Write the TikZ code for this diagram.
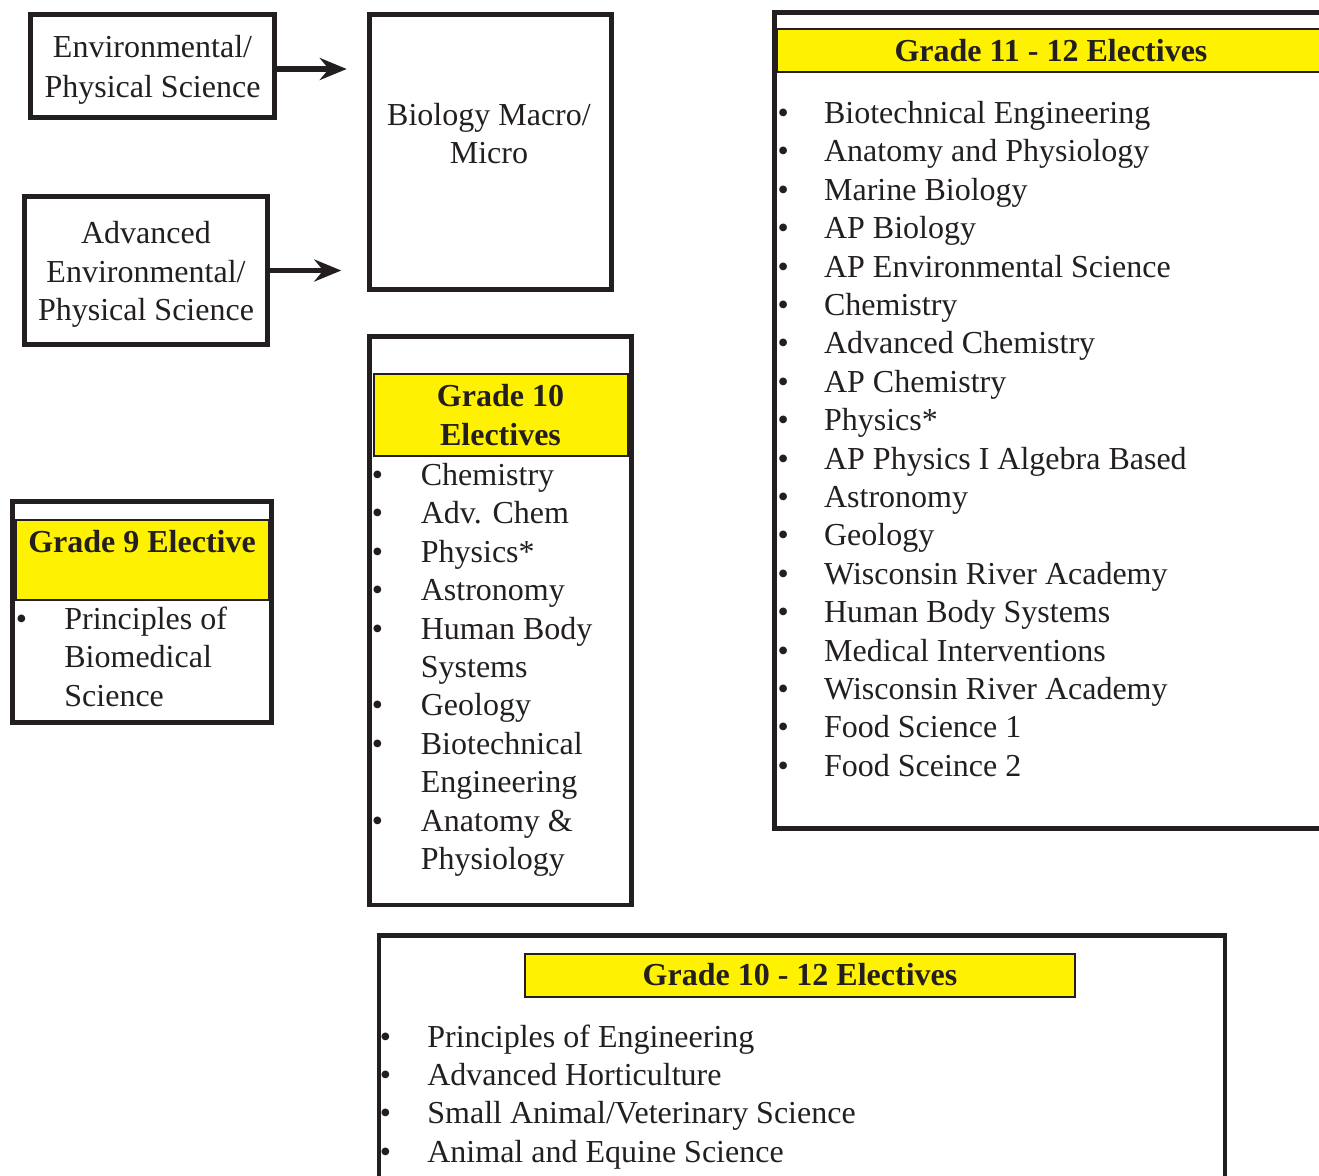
\documentclass[tikz,border=0pt]{standalone}
\usepackage{fontspec}
\setmainfont{Liberation Serif}
\usetikzlibrary{arrows.meta}
\definecolor{ink}{HTML}{231F20}
\definecolor{yel}{HTML}{FFF200}
\newcommand{\bul}{\makebox[0pt]{\textbullet}}
\begin{document}
\begin{tikzpicture}[x=0.5pt,y=-0.5pt,
  box/.style={draw=ink, line width=2.25pt, inner sep=0pt},
  hdr/.style={draw=ink, fill=yel, line width=1pt, inner sep=0pt},
  txt/.style={font=\fontsize{16}{19.2}\selectfont, text=ink, inner sep=0pt, align=center},
  btxt/.style={font=\fontsize{16}{19.2}\selectfont\bfseries, text=ink, inner sep=0pt, align=center},
  conn/.style={draw=ink, line width=2.75pt, -{Stealth[length=13.5pt,width=11pt,inset=4.5pt]}}]
\clip (0,0) rectangle (1319,1175);
\fill[white] (0,0) rectangle (1319,1175);

% top-left boxes
\node[box, txt, minimum width=122pt, minimum height=51.5pt] (env) at (152.5,66) {\rule{0pt}{15pt}Environmental/\\[0.6pt]Physical Science};
\node[box, txt, minimum width=121.5pt, minimum height=74pt] (adv) at (146,270.5) {\rule{0pt}{15pt}Advanced\\Environmental/\\Physical Science};
\node[box, minimum width=121pt, minimum height=137.5pt] (bio) at (490.5,152) {};
\node[txt, anchor=base] (biotxt) at (489,125.5) {\begin{tabular}[t]{@{}c@{}}Biology Macro/\\Micro\end{tabular}};

\draw[conn, shorten >=10.25pt] ([yshift=-1.5pt]env.east) -- ([yshift=-1.5pt]env.east -| bio.west);
\draw[conn, shorten >=13pt] (adv.east) -- (adv.east -| bio.west);

% Grade 9
\node[box, minimum width=129.5pt, minimum height=110.5pt] (g9) at (142,612) {};
\node[hdr, minimum width=126.5pt, minimum height=40.25pt] (g9h) at (142,559.75) {};
\node[btxt, anchor=base] (g9t) at (142,552) {Grade 9 Elective};
\node[txt, anchor=base west] (g9l) at (21,629.5) {\begin{tabular}[t]{@{}l@{\hspace{21.5pt}}l@{}}
\bul & Principles of\\
 & Biomedical\\
 & Science
\end{tabular}};

% Grade 10
\node[box, minimum width=131pt, minimum height=284.25pt] (g10) at (500.5,620.75) {};
\node[hdr, btxt, minimum width=127pt, minimum height=41pt] (g10h) at (500.5,415) {Grade 10\\Electives};
\node[txt, anchor=base west] (g10l) at (377,485.5) {\begin{tabular}[t]{@{}l@{\hspace{21.75pt}}l@{}}
\bul & Chemistry\\
\bul & Adv. Chem\\
\bul & Physics*\\
\bul & Astronomy\\
\bul & Human Body\\
 & Systems\\
\bul & Geology\\
\bul & Biotechnical\\
 & Engineering\\
\bul & Anatomy \&\\
 & Physiology
\end{tabular}};

% Grade 11-12
\node[box, minimum width=282.75pt, minimum height=408pt] (g1112) at (1057.25,420.5) {};
\node[hdr, minimum width=284pt, minimum height=21.5pt] (g1112h) at (1061,50.5) {};
\node[btxt] (g1112t) at (1051,50.5) {Grade 11 - 12 Electives};
\node[txt, anchor=base west] (g1112l) at (782.7,123.5) {\begin{tabular}[t]{@{}l@{\hspace{20.5pt}}l@{}}
\bul & Biotechnical Engineering\\
\bul & Anatomy and Physiology\\
\bul & Marine Biology\\
\bul & AP Biology\\
\bul & AP Environmental Science\\
\bul & Chemistry\\
\bul & Advanced Chemistry\\
\bul & AP Chemistry\\
\bul & Physics*\\
\bul & AP Physics I Algebra Based\\
\bul & Astronomy\\
\bul & Geology\\
\bul & Wisconsin River Academy\\
\bul & Human Body Systems\\
\bul & Medical Interventions\\
\bul & Wisconsin River Academy\\
\bul & Food Science 1\\
\bul & Food Sceince 2
\end{tabular}};

% Grade 10-12
\node[box, minimum width=423pt, minimum height=132.25pt] (g1012) at (802,1067.75) {};
\node[hdr, btxt, minimum width=275pt, minimum height=21.5pt] (g1012h) at (800,975) {Grade 10 - 12 Electives};
\node[txt, anchor=base west] (g1012l) at (385,1047) {\begin{tabular}[t]{@{}l@{\hspace{21pt}}l@{}}
\bul & Principles of Engineering\\
\bul & Advanced Horticulture\\
\bul & Small Animal/Veterinary Science\\
\bul & Animal and Equine Science
\end{tabular}};
\end{tikzpicture}
\end{document}
